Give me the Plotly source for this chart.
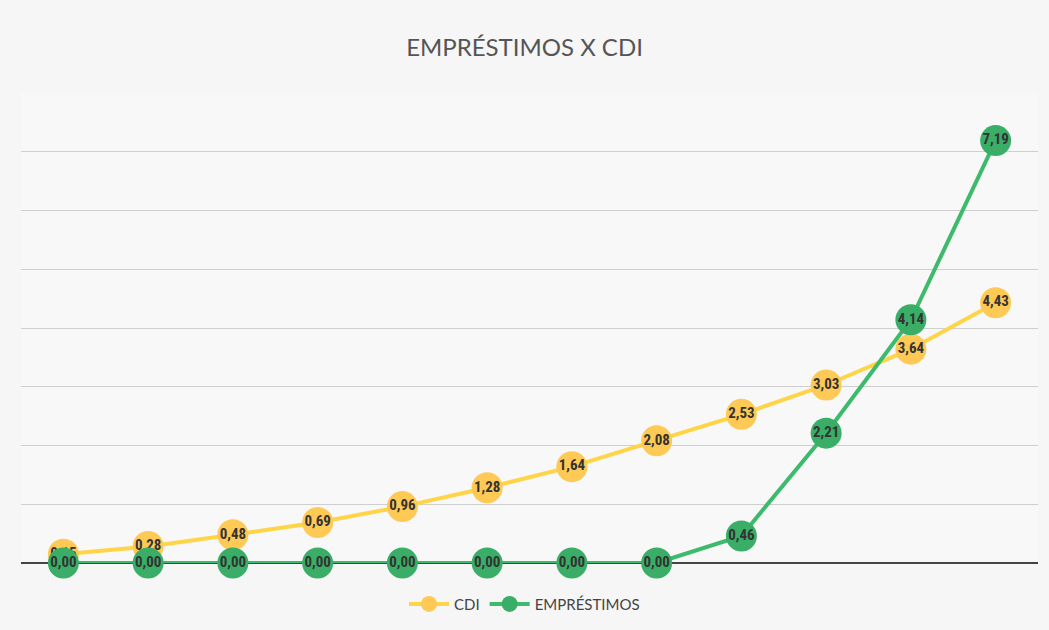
import plotly.graph_objects as go

categories = list(range(1, 13))
cdi = [0.15, 0.28, 0.48, 0.69, 0.96, 1.28, 1.64, 2.08, 2.53, 3.03, 3.64, 4.43]
emprestimos = [0.00, 0.00, 0.00, 0.00, 0.00, 0.00, 0.00, 0.00, 0.46, 2.21, 4.14, 7.19]

def fmt(v):
    return f"{v:.2f}".replace(".", ",")

label_font = dict(family="Liberation Sans Narrow, Roboto Condensed, Arial Narrow, sans-serif",
                  size=15, color="#333333", weight="bold")

fig = go.Figure()
fig.add_trace(go.Scatter(
    x=categories, y=cdi, name="CDI", mode="lines+markers+text",
    line=dict(color="#FFD447", width=4),
    marker=dict(color="#FFC955", size=31),
    text=[fmt(v) for v in cdi], textposition="middle center",
    textfont=label_font, cliponaxis=False,
))
fig.add_trace(go.Scatter(
    x=categories, y=emprestimos, name="EMPRÉSTIMOS", mode="lines+markers+text",
    line=dict(color="#3DBA6C", width=4),
    marker=dict(color="#3AAE66", size=31),
    text=[fmt(v) for v in emprestimos], textposition="middle center",
    textfont=label_font, cliponaxis=False,
))

fig.update_layout(
    width=1049, height=630,
    paper_bgcolor="#f6f6f6", plot_bgcolor="#f8f8f8",
    margin=dict(l=21, r=11, t=93, b=67),
    title=dict(text="EMPRÉSTIMOS X CDI", x=0.5, xanchor="center", y=0.925, yanchor="middle",
               font=dict(family="Lato, Open Sans, sans-serif", size=24, color="#555555")),
    xaxis=dict(range=[0.5, 12.5], showticklabels=False, showgrid=False, zeroline=False,
               showline=False, ticks=""),
    yaxis=dict(range=[0, 8], dtick=1, showticklabels=False, showgrid=True,
               gridcolor="#cfcfcf", gridwidth=1, zeroline=True, zerolinecolor="#444444",
               zerolinewidth=1.5, showline=False, ticks=""),
    showlegend=True,
    legend=dict(orientation="h", x=0.5, xanchor="center", xref="container",
                y=0.041, yanchor="middle", yref="container",
                font=dict(family="Liberation Sans Narrow, Lato, sans-serif", size=15, color="#444444"),
                bgcolor="rgba(0,0,0,0)", itemwidth=40),
)

fig.write_html("out.html")
